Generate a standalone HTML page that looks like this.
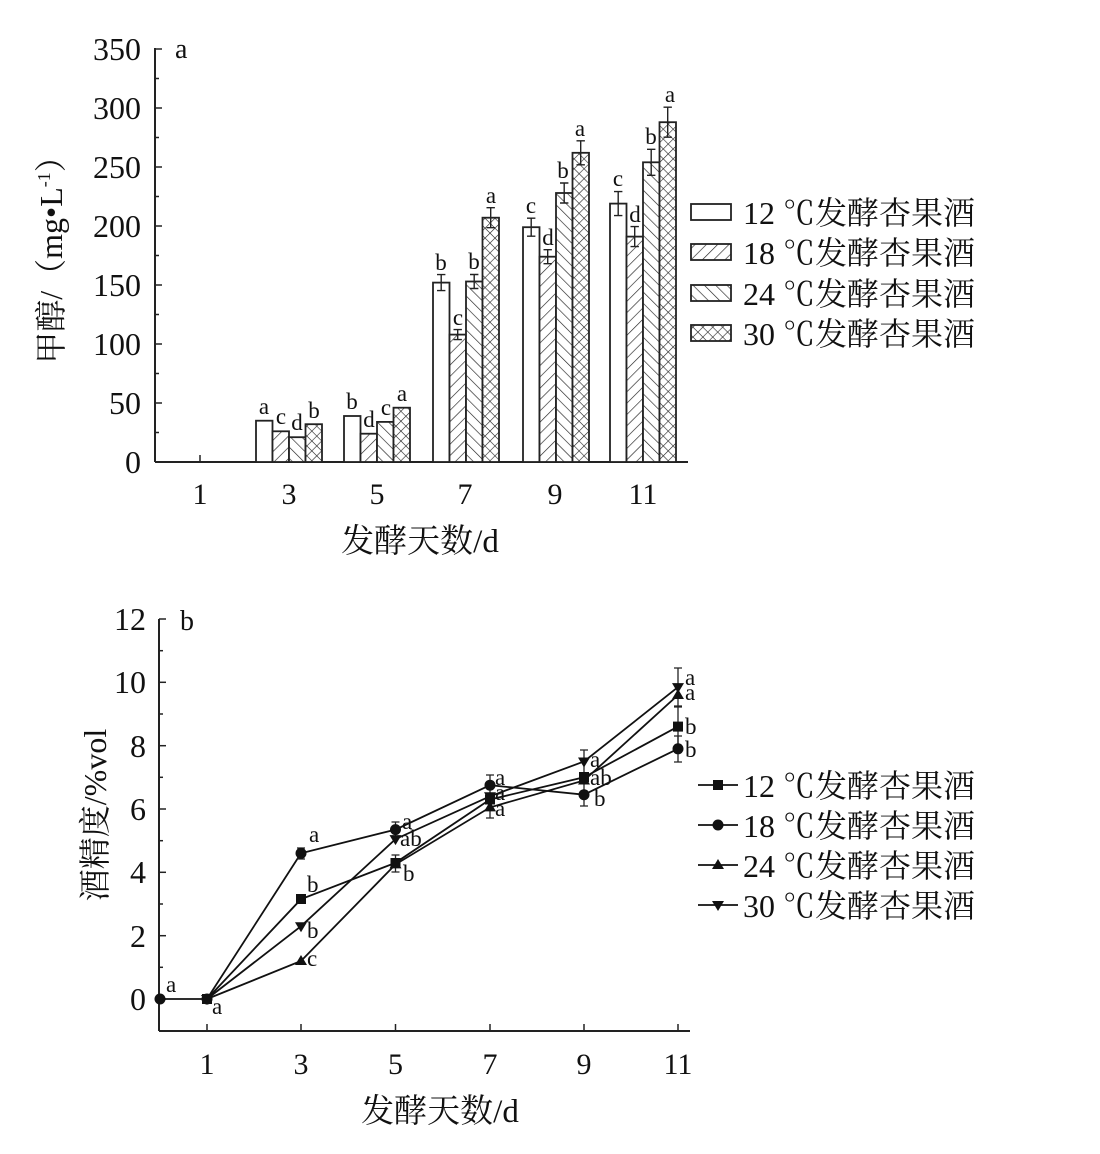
<!DOCTYPE html>
<html><head><meta charset="utf-8"><style>
html,body{margin:0;padding:0;background:#fff;}
svg{display:block;}
text{font-family:"Liberation Serif","Noto Serif CJK SC","Noto Sans CJK SC",serif;fill:#111;}
</style></head><body>
<svg width="1100" height="1154" viewBox="0 0 1100 1154" xmlns="http://www.w3.org/2000/svg">
<defs>
<pattern id="p18" patternUnits="userSpaceOnUse" width="8" height="8" patternTransform="rotate(45)"><rect width="8" height="8" fill="#fff"/><line x1="0" y1="0" x2="0" y2="8" stroke="#222" stroke-width="1.3"/></pattern>
<pattern id="p24" patternUnits="userSpaceOnUse" width="8" height="8" patternTransform="rotate(-45)"><rect width="8" height="8" fill="#fff"/><line x1="0" y1="0" x2="0" y2="8" stroke="#222" stroke-width="1.3"/></pattern>
<pattern id="p30" patternUnits="userSpaceOnUse" width="7" height="7" patternTransform="rotate(45)"><rect width="7" height="7" fill="#fff"/><line x1="0" y1="0" x2="0" y2="7" stroke="#222" stroke-width="1.2"/><line x1="0" y1="0" x2="7" y2="0" stroke="#222" stroke-width="1.2"/></pattern>
</defs>

<!-- ===== Chart a ===== -->
<g stroke="#222" stroke-width="2" fill="none">
<line x1="155" y1="48" x2="155" y2="462"/>
<line x1="155" y1="462" x2="688" y2="462"/>
</g>
<g stroke="#222" stroke-width="1.5">
<line x1="155" y1="49" x2="162" y2="49"/><line x1="155" y1="78.5" x2="159" y2="78.5"/>
<line x1="155" y1="108" x2="162" y2="108"/><line x1="155" y1="137.5" x2="159" y2="137.5"/>
<line x1="155" y1="167" x2="162" y2="167"/><line x1="155" y1="196.5" x2="159" y2="196.5"/>
<line x1="155" y1="226" x2="162" y2="226"/><line x1="155" y1="255.5" x2="159" y2="255.5"/>
<line x1="155" y1="285" x2="162" y2="285"/><line x1="155" y1="314.5" x2="159" y2="314.5"/>
<line x1="155" y1="344" x2="162" y2="344"/><line x1="155" y1="373.5" x2="159" y2="373.5"/>
<line x1="155" y1="403" x2="162" y2="403"/><line x1="155" y1="432.5" x2="159" y2="432.5"/>
<line x1="200" y1="462" x2="200" y2="455"/><line x1="289" y1="462" x2="289" y2="455"/>
<line x1="377" y1="462" x2="377" y2="455"/><line x1="465" y1="462" x2="465" y2="455"/>
<line x1="555" y1="462" x2="555" y2="455"/><line x1="643" y1="462" x2="643" y2="455"/>
</g>
<g font-size="32" text-anchor="end">
<text x="141" y="60">350</text><text x="141" y="119">300</text><text x="141" y="178">250</text>
<text x="141" y="237">200</text><text x="141" y="296">150</text><text x="141" y="355">100</text>
<text x="141" y="414">50</text><text x="141" y="473">0</text>
</g>
<g font-size="30" text-anchor="middle">
<text x="200" y="504">1</text><text x="289" y="504">3</text><text x="377" y="504">5</text>
<text x="465" y="504">7</text><text x="555" y="504">9</text><text x="643" y="504">11</text>
</g>
<text x="175" y="58" font-size="28">a</text>
<text x="420" y="552" font-size="33" text-anchor="middle">发酵天数/d</text>
<text transform="translate(62,252) rotate(-90)" font-size="32" text-anchor="middle">甲醇/（mg•L<tspan font-size="18" dy="-12">-1</tspan><tspan dy="12">）</tspan></text>

<!-- bars -->
<g stroke="#222" stroke-width="1.8">
<rect x="256" y="420.7" width="16.5" height="41.3" fill="#fff"/>
<rect x="272.5" y="431.3" width="16.5" height="30.7" fill="url(#p18)"/>
<rect x="289" y="437.2" width="16.5" height="24.8" fill="url(#p24)"/>
<rect x="305.5" y="424.2" width="16.5" height="37.8" fill="url(#p30)"/>

<rect x="344" y="416" width="16.5" height="46" fill="#fff"/>
<rect x="360.5" y="433.7" width="16.5" height="28.3" fill="url(#p18)"/>
<rect x="377" y="421.9" width="16.5" height="40.1" fill="url(#p24)"/>
<rect x="393.5" y="407.7" width="16.5" height="54.3" fill="url(#p30)"/>

<rect x="433" y="282.6" width="16.5" height="179.4" fill="#fff"/>
<rect x="449.5" y="334.6" width="16.5" height="127.4" fill="url(#p18)"/>
<rect x="466" y="281.5" width="16.5" height="180.5" fill="url(#p24)"/>
<rect x="482.5" y="217.7" width="16.5" height="244.3" fill="url(#p30)"/>

<rect x="523" y="227.2" width="16.5" height="234.8" fill="#fff"/>
<rect x="539.5" y="256.7" width="16.5" height="205.3" fill="url(#p18)"/>
<rect x="556" y="193" width="16.5" height="269" fill="url(#p24)"/>
<rect x="572.5" y="152.8" width="16.5" height="309.2" fill="url(#p30)"/>

<rect x="610" y="203.6" width="16.5" height="258.4" fill="#fff"/>
<rect x="626.5" y="236.6" width="16.5" height="225.4" fill="url(#p18)"/>
<rect x="643" y="162.3" width="16.5" height="299.7" fill="url(#p24)"/>
<rect x="659.5" y="122.2" width="16.5" height="339.8" fill="url(#p30)"/>
</g>
<!-- error bars -->
<g stroke="#222" stroke-width="1.4" fill="none">
<path d="M441.2 274.6V290.6M437 274.6h8.4M437 290.6h8.4"/>
<path d="M457.7 329.6V339.6M453.5 329.6h8.4M453.5 339.6h8.4"/>
<path d="M474.2 274.5V288.5M470 274.5h8.4M470 288.5h8.4"/>
<path d="M490.7 207.7V227.7M486.5 207.7h8.4M486.5 227.7h8.4"/>
<path d="M531.2 218.2V236.2M527 218.2h8.4M527 236.2h8.4"/>
<path d="M547.7 249.7V263.7M543.5 249.7h8.4M543.5 263.7h8.4"/>
<path d="M564.2 183V203M560 183h8.4M560 203h8.4"/>
<path d="M580.7 140.8V164.8M576.5 140.8h8.4M576.5 164.8h8.4"/>
<path d="M618.2 191.6V215.6M614 191.6h8.4M614 215.6h8.4"/>
<path d="M634.7 226.6V246.6M630.5 226.6h8.4M630.5 246.6h8.4"/>
<path d="M651.2 149.3V175.3M647 149.3h8.4M647 175.3h8.4"/>
<path d="M667.7 107.2V137.2M663.5 107.2h8.4M663.5 137.2h8.4"/>
</g>
<g font-size="23" text-anchor="middle">
<text x="264" y="414">a</text><text x="281" y="424">c</text><text x="297" y="430">d</text><text x="314" y="418">b</text>
<text x="352" y="409">b</text><text x="369" y="427">d</text><text x="386" y="415">c</text><text x="402" y="401">a</text>
<text x="441" y="270">b</text><text x="458" y="325">c</text><text x="474" y="269">b</text><text x="491" y="203">a</text>
<text x="531" y="213">c</text><text x="548" y="245">d</text><text x="563" y="178">b</text><text x="580" y="136">a</text>
<text x="618" y="186">c</text><text x="635" y="222">d</text><text x="651" y="144">b</text><text x="670" y="102">a</text>
</g>
<!-- legend a -->
<g stroke="#222" stroke-width="1.8">
<rect x="691" y="204" width="40" height="16" fill="#fff"/>
<rect x="691" y="244" width="40" height="16" fill="url(#p18)"/>
<rect x="691" y="285" width="40" height="16" fill="url(#p24)"/>
<rect x="691" y="325" width="40" height="16" fill="url(#p30)"/>
</g>
<g font-size="32">
<text x="743" y="224">12 ℃发酵杏果酒</text>
<text x="743" y="264">18 ℃发酵杏果酒</text>
<text x="743" y="305">24 ℃发酵杏果酒</text>
<text x="743" y="345">30 ℃发酵杏果酒</text>
</g>

<!-- ===== Chart b ===== -->
<g stroke="#222" stroke-width="2" fill="none">
<line x1="159" y1="619" x2="159" y2="1031"/>
<line x1="159" y1="1031" x2="690" y2="1031"/>
</g>
<g stroke="#222" stroke-width="1.5">
<line x1="159" y1="619" x2="166" y2="619"/><line x1="159" y1="650.7" x2="163" y2="650.7"/>
<line x1="159" y1="682.3" x2="166" y2="682.3"/><line x1="159" y1="714" x2="163" y2="714"/>
<line x1="159" y1="745.7" x2="166" y2="745.7"/><line x1="159" y1="777.3" x2="163" y2="777.3"/>
<line x1="159" y1="809" x2="166" y2="809"/><line x1="159" y1="840.7" x2="163" y2="840.7"/>
<line x1="159" y1="872.3" x2="166" y2="872.3"/><line x1="159" y1="904" x2="163" y2="904"/>
<line x1="159" y1="935.7" x2="166" y2="935.7"/><line x1="159" y1="967.3" x2="163" y2="967.3"/>
<line x1="159" y1="999" x2="166" y2="999"/>
<line x1="207" y1="1031" x2="207" y2="1024"/><line x1="301" y1="1031" x2="301" y2="1024"/>
<line x1="395.5" y1="1031" x2="395.5" y2="1024"/><line x1="490" y1="1031" x2="490" y2="1024"/>
<line x1="584" y1="1031" x2="584" y2="1024"/><line x1="678" y1="1031" x2="678" y2="1024"/>
</g>
<g font-size="32" text-anchor="end">
<text x="146" y="630">12</text><text x="146" y="693">10</text><text x="146" y="757">8</text>
<text x="146" y="820">6</text><text x="146" y="883">4</text><text x="146" y="947">2</text>
<text x="146" y="1010">0</text>
</g>
<g font-size="30" text-anchor="middle">
<text x="207" y="1074">1</text><text x="301" y="1074">3</text><text x="395.5" y="1074">5</text>
<text x="490" y="1074">7</text><text x="584" y="1074">9</text><text x="678" y="1074">11</text>
</g>
<text x="180" y="630" font-size="28">b</text>
<text x="440" y="1122" font-size="33" text-anchor="middle">发酵天数/d</text>
<text transform="translate(106,815) rotate(-90)" font-size="32" text-anchor="middle">酒精度/%vol</text>

<g stroke="#111" stroke-width="1.8" fill="none">
<polyline points="160,999 207,999"/>
<polyline points="207,999 301,899.2 395.5,862.8 490,799.5 584,777.3 678,726.6"/>
<polyline points="207,999 301,853.3 395.5,829.6 490,785.2 584,794.7 678,748.8"/>
<polyline points="207,999 301,961 395.5,864.4 490,807.4 584,780.5 678,695"/>
<polyline points="207,999 301,926.2 395.5,839.1 490,796.3 584,761.5 678,687.1"/>
</g>
<g stroke="#222" stroke-width="1.3" fill="none">
<path d="M301 848V859M297 848h8M297 859h8"/>
<path d="M395.5 822V838M391.5 822h8M391.5 838h8"/>
<path d="M395.5 855V872M391.5 855h8M391.5 872h8"/>
<path d="M490 775V797M486 775h8M486 797h8"/>
<path d="M490 797V818M486 797h8M486 818h8"/>
<path d="M584 750V773M580 750h8M580 773h8"/>
<path d="M584 783V806M580 783h8M580 806h8"/>
<path d="M678 668V706M674 668h8M674 706h8"/>
<path d="M678 707V746M674 707h8M674 746h8"/>
<path d="M678 736V762M674 736h8M674 762h8"/>
</g>
<g fill="#111">
<rect x="202" y="994" width="10" height="10"/><rect x="296" y="894" width="10" height="10"/>
<rect x="390.5" y="858" width="10" height="10"/><rect x="485" y="794.5" width="10" height="10"/>
<rect x="579" y="772" width="10" height="10"/><rect x="673" y="721.6" width="10" height="10"/>
<circle cx="160" cy="999" r="5.5"/><circle cx="207" cy="999" r="5.5"/><circle cx="301" cy="853.3" r="5.5"/>
<circle cx="395.5" cy="829.6" r="5.5"/><circle cx="490" cy="785.2" r="5.5"/><circle cx="584" cy="794.7" r="5.5"/><circle cx="678" cy="748.8" r="5.5"/>
<path d="M301 955l6 10h-12z"/><path d="M395.5 858.4l6 10h-12z"/><path d="M490 801.4l6 10h-12z"/>
<path d="M584 774.5l6 10h-12z"/><path d="M678 689l6 10h-12z"/>
<path d="M207 1005l6-10h-12z"/><path d="M301 932.2l6-10h-12z"/><path d="M395.5 845.1l6-10h-12z"/><path d="M490 802.3l6-10h-12z"/>
<path d="M584 767.5l6-10h-12z"/><path d="M678 693.1l6-10h-12z"/>
</g>
<g font-size="23">
<text x="166" y="992">a</text><text x="212" y="1014">a</text>
<text x="309" y="842">a</text><text x="307" y="892">b</text><text x="307" y="938">b</text><text x="307" y="966">c</text>
<text x="402" y="829">a</text><text x="400" y="846">ab</text><text x="403" y="881">b</text>
<text x="495" y="785">a</text><text x="495" y="800">a</text><text x="495" y="816">a</text>
<text x="590" y="767">a</text><text x="590" y="785">ab</text><text x="594" y="806">b</text>
<text x="685" y="685">a</text><text x="685" y="700">a</text><text x="685" y="734">b</text><text x="685" y="757">b</text>
</g>
<!-- legend b -->
<g stroke="#111" stroke-width="1.8">
<line x1="698" y1="785" x2="738" y2="785"/><line x1="698" y1="825" x2="738" y2="825"/>
<line x1="698" y1="865" x2="738" y2="865"/><line x1="698" y1="905" x2="738" y2="905"/>
</g>
<g fill="#111">
<rect x="713" y="780" width="10" height="10"/>
<circle cx="718" cy="825" r="5.5"/>
<path d="M718 859l6 10h-12z"/>
<path d="M718 911l6-10h-12z"/>
</g>
<g font-size="32">
<text x="743" y="797">12 ℃发酵杏果酒</text>
<text x="743" y="837">18 ℃发酵杏果酒</text>
<text x="743" y="877">24 ℃发酵杏果酒</text>
<text x="743" y="917">30 ℃发酵杏果酒</text>
</g>
</svg>
</body></html>
